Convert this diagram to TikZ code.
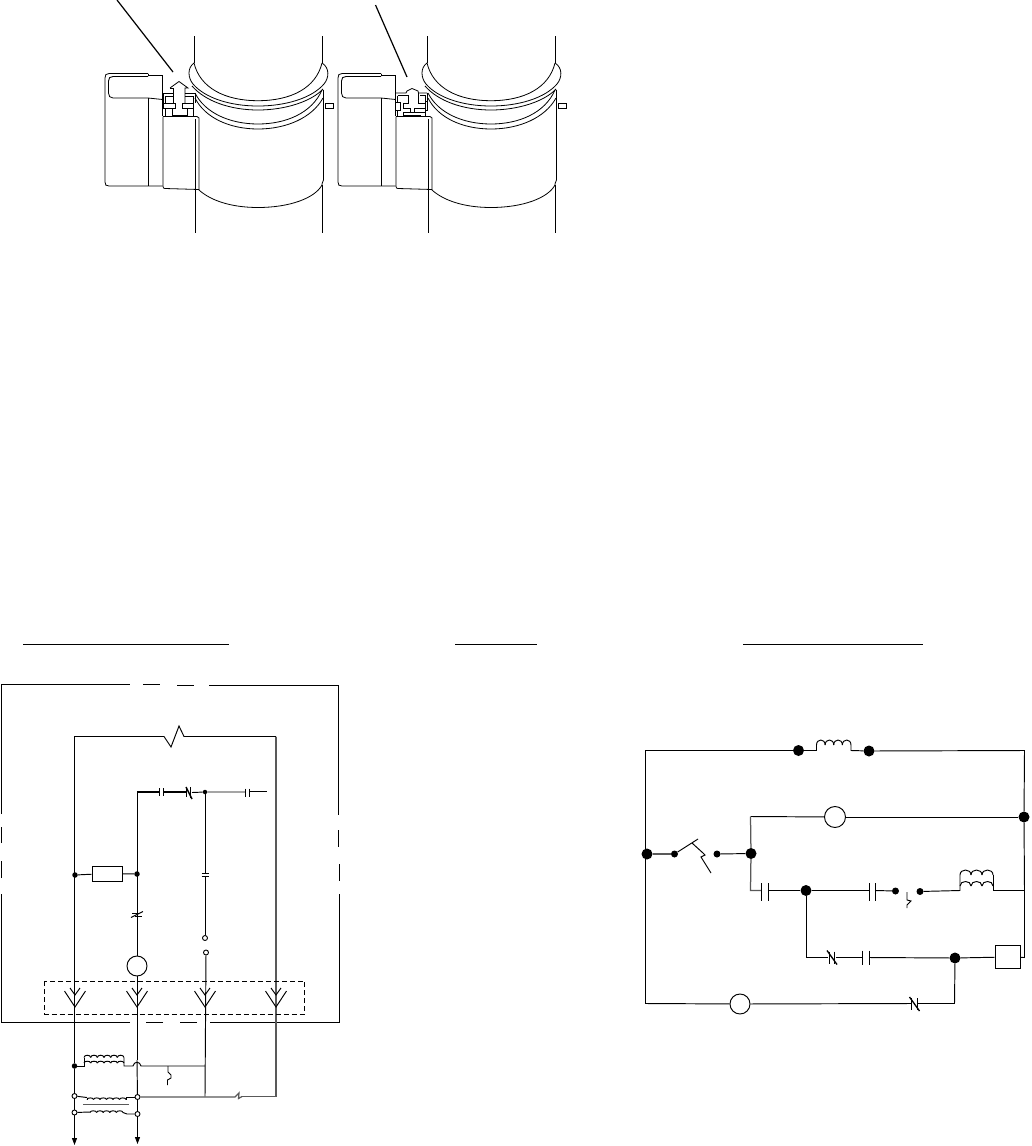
\documentclass[tikz,border=0pt]{standalone}
\usetikzlibrary{arrows.meta}
\tikzset{
  wire/.style={line width=0.95pt,black},
  heavy/.style={line width=1.8pt,black},
  greywire/.style={line width=1.25pt,black!65},
  thin line/.style={line width=0.8pt,black},
  bigdot/.style={circle,fill=black,inner sep=0pt,minimum size=11pt},
  smalldot/.style={circle,fill=black,inner sep=0pt,minimum size=7pt},
  tinydot/.style={circle,fill=black,inner sep=0pt,minimum size=5.5pt},
  opendot/.style={circle,draw=black,fill=white,line width=0.9pt,inner sep=0pt,minimum size=5pt},
  ringnode/.style={circle,draw=black,fill=white,line width=0.95pt,inner sep=0pt,minimum size=20pt},
  loadbox/.style={rectangle,draw=black,fill=white,line width=0.95pt,inner sep=0pt},
  point/.style={inner sep=0pt,outer sep=0pt,minimum size=0pt}
}
% bumps: x0, x1, y, number, height
\newcommand{\humps}[5]{%
  \pgfmathsetmacro{\hw}{(#2-#1)/#4}%
  \foreach \i in {1,...,#4}{%
    \pgfmathsetmacro{\xa}{#1+(\i-1)*\hw}%
    \pgfmathsetmacro{\xb}{#1+\i*\hw}%
    \pgfmathsetmacro{\yt}{#3-1.33*#5}%
    \draw[wire] (\xa,#3) .. controls (\xa,\yt) and (\xb,\yt) .. (\xb,#3);}}
% normally closed contact centred at x,y
\newcommand{\ncmark}[2]{%
  \draw[wire,line width=1.3pt] (#1-5,#2-7) -- (#1+5,#2+7);
  \draw[wire] (#1-2.8,#2-6) -- (#1-2.8,#2+6);
  \draw[wire] (#1+2.8,#2-6) -- (#1+2.8,#2+6);}
% vertical capacitor contact
\newcommand{\capv}[4]{%
  \draw[wire] (#1,#3-#4) -- (#1,#3+#4);
  \draw[wire] (#2,#3-#4) -- (#2,#3+#4);}
\begin{document}
\begin{tikzpicture}[x=1pt,y=-1pt]
\useasboundingbox (0,0) rectangle (1031,1146);
\fill[white] (0,0) rectangle (1031,1146);

% ---------- top: two clamped pipes ----------
\foreach \dx in {0,233}{
\begin{scope}[shift={(\dx,0)},thin line]
  \draw (194,36) -- (194,63);
  \draw (322,36) -- (322,63);
  \draw (194,63) .. controls (200,88) and (225,100.7) .. (258,100.7) .. controls (291,100.7) and (316,88) .. (322,63);
  \draw (194,63) .. controls (187,68) and (188,78) .. (193,84) .. controls (205,98) and (230,106) .. (258,106) .. controls (286,106) and (312,98) .. (324,84) .. controls (329,78) and (330,68) .. (322,63);
  \draw (192,86) .. controls (205,101) and (230,110) .. (258,110) .. controls (286,110) and (312,101) .. (323,89);
  \draw (195,93) .. controls (205,113) and (230,124) .. (258,124) .. controls (286,124) and (312,113) .. (322,90);
  \draw (195,98) .. controls (205,118) and (230,129) .. (258,129) .. controls (286,129) and (312,118) .. (323,98);
  \draw (323.5,90) -- (323.5,180) .. controls (322,183) and (322,184) .. (322,185);
  \draw (322,185) -- (322,233);
  \draw (195.5,190) -- (195.5,233);
  \draw (199,190) .. controls (210,200) and (230,207.5) .. (258,207.5) .. controls (290,207.5) and (315,198) .. (322,185);
  % clamp lever
  \draw (148,73.5) -- (109,73.5) .. controls (106,73.5) and (105,75) .. (105,78) -- (105,182) .. controls (105,185) and (106,186) .. (109,186) -- (162.5,186);
  \draw (148,73.5) -- (148,75) -- (162.5,75) -- (162.5,116);
  \draw (148,76.5) -- (113,76.5) .. controls (110,76.5) and (108.5,78) .. (108.5,81) -- (108.5,93) .. controls (108.5,96) and (110,98) .. (113,98) -- (148,98) -- (162.5,99.5);
  \draw (148,98) -- (148,186);
  \draw (163,116.5) -- (197,116.5) -- (199,118) -- (199,190);
  \draw (195.5,119) -- (195.5,189);
  \draw (163,116.5) -- (163,186.5) .. controls (163,188) and (164,188.5) .. (165,188.5) -- (199,189.5);
  % tab
  \draw (325,103.5) rectangle (333,108.5);
\end{scope}}

% latch open
\begin{scope}[thin line]
  \draw (170,88) -- (179,81.5) -- (188,88) -- (185,88) -- (185,103);
  \draw (170,88) -- (173,88) -- (173,103);
  \draw (163,93) -- (173,93); \draw (185,93) -- (195,93);
  \draw (165.5,96) -- (173,96); \draw (185,96) -- (193,96);
  \draw (165.5,96) -- (165.5,103);
  \draw (165.5,108.5) -- (165.5,116);
  \draw (163,103) rectangle (175,108.5);
  \draw (182,103) rectangle (193,108.5);
  \draw (163,93) -- (163,103);
  \draw (172.5,108.5) -- (172.5,115); \draw (187,108.5) -- (187,115);
  \draw[line width=1.6pt] (172,115.3) -- (187.5,115.3);
  \draw (193,96) -- (193,103); \draw (193,108.5) -- (193,116);
  \draw (195,93) -- (195,103);
\end{scope}
% latch closed
\begin{scope}[thin line]
  \draw (395,93) -- (406,93) -- (407,91) -- (412,88.5) -- (418,91) -- (418.5,93) -- (427,93);
  \draw (397.5,95.5) -- (408,95.5) -- (408,103) -- (403,103) -- (403,108) -- (410,108) -- (410,112) ;
  \draw (418.5,93) -- (418.5,103) -- (425,103) -- (425,108) -- (414,108) -- (414,112);
  \draw (420,95.5) -- (425,95.5) -- (425,101);
  \draw (397.5,95.5) -- (397.5,102);
  \draw (395,93) -- (395,116);
  \draw (395,102) rectangle (400,110);
  \draw (397.5,110) -- (397.5,116);
  \draw (403,112) -- (425,112);
  \draw[line width=1.5pt] (403,115.5) -- (421,115.5);
  \draw (403,112) -- (403,116); \draw (425,108) -- (425,116);
  \draw (425.5,101) rectangle (427.5,110);
  \draw (427,93) -- (427,101);
\end{scope}
% leaders
\coordinate (la) at (117,0); \coordinate (lb) at (173,72);
\coordinate (lc) at (375.5,5); \coordinate (ld) at (407,77);
\draw[line width=1.2pt] (la) -- (lb);
\draw[line width=1.2pt] (lc) -- (ld);

% ---------- title rules ----------
\coordinate (t1a) at (23,644.5); \coordinate (t1b) at (229,644.5);
\coordinate (t2a) at (455,644.5); \coordinate (t2b) at (537,644.5);
\coordinate (t3a) at (743,644.5); \coordinate (t3b) at (923,644.5);
\draw[wire] (t1a) -- (t1b); \draw[wire] (t2a) -- (t2b); \draw[wire] (t3a) -- (t3b);

% ---------- left schematic ----------
\begin{scope}
\draw[wire] (1.5,1022.5) -- (1.5,894) (1.5,878) -- (1.5,861) (1.5,843) -- (1.5,827) (1.5,814) -- (1.5,684.5) -- (130,684.5);
\draw[wire] (143,684.5) -- (160,684.5) (177,685.5) -- (194,685.5);
\draw[wire] (209,685.5) -- (338.5,685.5) -- (338.5,815) (338.5,830) -- (338.5,847) (339.5,864) -- (339.5,881) (339.5,894) -- (339.5,1022.5) -- (210,1022.5);
\draw[wire] (197,1022.5) -- (180,1022.5) (163,1022.5) -- (146,1022.5) (130,1022.5) -- (1.5,1022.5);

\node[tinydot] (a1) at (75,875) {};
\node[tinydot] (a2) at (137,874) {};
\node[loadbox,minimum width=30pt,minimum height=15pt] (rb) at (107,873.5) {};
\draw[wire] (a1) -- (rb); \draw[wire] (rb) -- (a2);

\coordinate (tl) at (74.5,736.5); \coordinate (tr) at (276,736.5);
\coordinate (ml) at (137,792); \coordinate (mj) at (205,792);
\coordinate (bl) at (74.5,1145); \coordinate (br) at (137.5,1144);
\coordinate (rj) at (276,1096.5);
\node[ringnode] (m1) at (137,966) {};
\node[tinydot,minimum size=4.5pt] (mjd) at (mj) {};
\node[opendot] (o1) at (205,938) {};
\node[opendot] (o2) at (206,952.5) {};
\coordinate (vt) at (205,1096.5);
\node[opendot] (o3) at (74.5,1096) {};
\node[opendot] (o4) at (137.5,1097) {};
\node[opendot] (o5) at (74.5,1112.5) {};
\node[opendot] (o6) at (137.5,1114) {};
\node[tinydot] (j1) at (74.5,1066) {};

\draw[wire] (j1) -- (tl) -- (164,736.5) -- (171,747) -- (179,726) -- (184,736.5) -- (tr);
\draw[greywire] (tr) -- (rj);
\draw[wire] (j1) -- (o3);\draw[wire] (o3) -- (o5);
\draw[wire,-{Triangle[length=7pt,width=5pt]}] (o5) -- (bl);
\draw[wire] (ml) -- (m1);
\draw[wire] (m1) -- (137,1060);
\draw[wire] (137,1060) -- (o4);
\draw[wire] (o4) -- (o6);
\draw[wire,-{Triangle[length=7pt,width=5pt]}] (o6) -- (br);
\draw[heavy] (ml) -- (159,792) (164,792) -- (186,792);
\capv{159.5}{163}{792}{4}
\draw[wire,line width=1.4pt] (186,787) -- (192,799); \draw[wire] (186.5,787) -- (186.5,797); \draw[wire] (190.5,787) -- (190.5,798);
\draw[wire] (192,792.5) -- (mjd) -- (245,792);
\capv{245}{249}{792.5}{4}
\draw[wire] (249,791.5) -- (267,791.5);
\draw[wire] (mjd) -- (205,873.5);
\draw[wire] (201.5,873.5) -- (209,873.5);
\draw[wire] (201.5,876.5) -- (209,876.5);
\draw[wire] (205,876.5) -- (o1);
\draw[wire] (o2) -- (vt);
% switch on x=137
\draw[wire] (131,917.5) -- (143,911.5); \draw[wire] (132,913.5) -- (139,913.5); \draw[wire] (135,916.5) -- (142,916.5);
% dashed box
\draw[wire,dash pattern=on 5pt off 3pt] (44.5,981) rectangle (304.5,1014);
% forks
\foreach \x in {75,137,205,276}{
  \draw[wire] (\x-10.5,991) -- (\x,1007) -- (\x+10.5,991);
  \draw[wire] (\x-5,988) -- (\x,995) -- (\x+5,988);
}
% transformer windings
\draw[wire] (j1) -- (84,1066) -- (84,1057.5);
\humps{84}{124}{1057.5}{6}{2.3}
\humps{84}{124}{1063}{6}{1.8}
\draw[wire] (124,1057.5) -- (124,1066) -- (133,1066) .. controls (134,1061) and (140,1061) .. (141,1066) -- (205,1066);
\coordinate (ovl) at (168,1066);
\draw[wire] (ovl) -- (168,1072) -- (171,1075) -- (171,1078) -- (167.5,1080) -- (167.5,1085);
\draw[wire] (o3) -- (87,1097.5);
\humps{87}{126}{1099.5}{6}{1.6}
\draw[wire] (87,1097.5) -- (87,1099.5); \draw[wire] (126,1099.5) -- (126,1097) -- (o4);
\draw[greywire] (83,1104.5) -- (129,1104.5);
\draw[wire] (o5) -- (90,1112);
\humps{90}{123}{1112.5}{5}{1.7}
\draw[wire] (123,1112.5) -- (127,1114) -- (o6);
\draw[greywire] (o4) -- (235,1097) -- (239,1093) -- (238.5,1098.5) -- (242,1096.5);
\draw[greywire] (242,1096.5) -- (rj);
\end{scope}

% ---------- right schematic ----------
\begin{scope}
\node[bigdot] (r1) at (798.5,750.5) {};
\node[bigdot] (r2) at (869,751) {};
\node[bigdot] (r3) at (1024,817) {};
\node[bigdot] (r4) at (647,854) {};
\node[smalldot] (r5) at (674.5,854) {};
\node[smalldot] (r6) at (717,854) {};
\node[bigdot] (r7) at (751,853.5) {};
\node[bigdot] (r8) at (806,890.5) {};
\node[smalldot] (r9) at (895.5,891) {};
\node[smalldot] (r10) at (920,891.5) {};
\node[bigdot] (r11) at (955,958) {};
\node[loadbox,minimum width=25pt,minimum height=23.5pt] (rbox) at (1007.5,957) {};
\node[circle,draw,fill=white,line width=0.95pt,inner sep=0pt,minimum width=18pt,minimum height=21pt] (rc1) at (835,817) {};
\node[ringnode] (rc2) at (740,1004) {};
\coordinate (cTL) at (645.5,750.5);
\coordinate (cTR) at (1024.5,750.5);
\coordinate (cBL) at (645.5,1003.5);
\coordinate (cBR) at (954.5,1003.5);
\coordinate (cUL) at (750.5,816.5);
\coordinate (cLL) at (750.5,890.5);
\coordinate (cR2) at (1024.5,890.5);
\coordinate (cR3) at (1024.5,957.5);

\draw[wire] (r1) -- (cTL) -- (cBL) -- (rc2);
\draw[wire] (r1) -- (816.5,750.5) -- (816.5,745);
\humps{816.5}{851}{745}{4}{5}
\draw[wire] (851,745) -- (851,750.5) -- (r2);
\draw[wire] (r2) -- (cTR) -- (r3);
\draw[wire] (r3) -- (cR2) -- (cR3) -- (rbox);
\draw[wire] (r3) -- (rc1);
\draw[wire] (rc1) -- (cUL);
\draw[greywire] (cUL) -- (r7); \draw[greywire] (r7) -- (cLL) -- (761,890.5);
\draw[greywire] (r4) -- (r5);
\draw[wire] (r6) -- (r7);
\draw[wire] (r5) -- (698,839);
\draw[wire] (692,843) -- (703,853) -- (705,855) -- (701,857) -- (711,873);
\capv{761}{768}{892}{9}
\draw[wire] (768,890.5) -- (r8) -- (869,890.5);
\capv{869}{875}{892}{9}
\draw[wire] (875,890.5) -- (r9);
\draw[wire] (907,892) -- (907,900) -- (911,901) -- (907,905) -- (907,908);
\draw[wire] (r10) -- (960,890.5) -- (960,875);
\humps{960}{993}{886}{3}{4.5}
\humps{960}{993}{875}{3}{5}
\draw[wire] (993,875) -- (993,890.5) -- (cR2);
\draw[wire] (r8) -- (806,957.5) -- (828,957.5);
\ncmark{832}{957.5}
\draw[wire] (836,957.5) -- (862,957.5);
\capv{862}{869}{957.5}{7}
\draw[wire] (869,957.5) -- (r11) -- (rbox);
\draw[wire] (r11) -- (cBR) -- (918,1003.5);
\ncmark{914.5}{1004}
\draw[wire] (911,1003.5) -- (rc2);
\end{scope}
\end{tikzpicture}
\end{document}
